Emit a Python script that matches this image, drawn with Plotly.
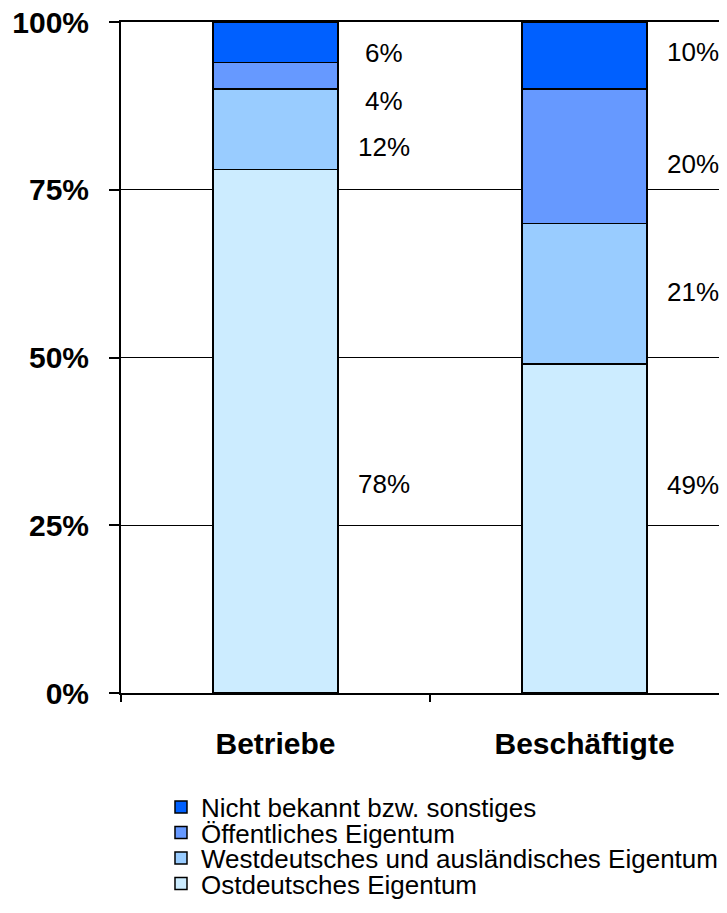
import plotly.graph_objects as go

categories = ["Betriebe", "Beschäftigte"]
series_names = [
    "Ostdeutsches Eigentum",
    "Westdeutsches und ausländisches Eigentum",
    "Öffentliches Eigentum",
    "Nicht bekannt bzw. sonstiges",
]
ost = [78, 49]
west = [12, 21]
oeff = [4, 20]
nicht = [6, 10]
series_values = [ost, west, oeff, nicht]
colors = ["#CCECFF", "#99CCFF", "#6699FF", "#0060FF"]

y_ticks = [0, 25, 50, 75, 100]
y_ticklabels = ["0%", "25%", "50%", "75%", "100%"]

# label positions (value axis, in %) as placed in the original
label_y = {
    "Betriebe": [31.2, 81.4, 88.2, 95.4],
    "Beschäftigte": [31.0, 59.7, 78.8, 95.5],
}

FONT = "Liberation Sans, Arial, sans-serif"

# one legend per entry so rows can sit as tightly as in the original
legend_ids = ["legend4", "legend3", "legend2", "legend"]
legend_rows_y = {"legend": -0.170, "legend2": -0.208, "legend3": -0.246, "legend4": -0.284}

fig = go.Figure()
for name, vals, col, lid in zip(series_names, series_values, colors, legend_ids):
    fig.add_trace(go.Bar(
        x=categories, y=vals, name=name,
        marker=dict(color=col, line=dict(color="black", width=1.5)),
        width=0.405,
        legend=lid,
    ))

annotations = []
for ci, cat in enumerate(categories):
    for si, vals in enumerate(series_values):
        annotations.append(dict(
            x=ci + 0.35, y=label_y[cat][si], xref="x", yref="y",
            text=f"{vals[ci]}%", showarrow=False,
            font=dict(family=FONT, size=26, color="black"),
            xanchor="center", yanchor="middle",
        ))

legend_common = dict(
    x=0.066, xanchor="left", yanchor="middle",
    font=dict(family=FONT, size=26, color="black"),
    bgcolor="rgba(0,0,0,0)",
    borderwidth=0,
)
layout_legends = {lid: dict(legend_common, y=yv) for lid, yv in legend_rows_y.items()}

fig.update_layout(
    barmode="stack",
    width=719, height=897,
    margin=dict(l=113, r=0, t=14, b=212, autoexpand=False),
    paper_bgcolor="white", plot_bgcolor="white",
    font=dict(family=FONT, color="black"),
    showlegend=True,
    annotations=annotations,
    **layout_legends,
)

fig.update_xaxes(
    type="category",
    range=[-0.5, 1.461],
    tickson="boundaries",
    ticks="outside", ticklen=7, tickcolor="black", tickwidth=1.5,
    showline=True, linecolor="black", linewidth=2, mirror=True,
    showgrid=False,
    tickfont=dict(family=FONT, size=30, color="black", weight="bold"),
    ticklabelstandoff=23,
)
fig.update_yaxes(
    range=[0, 100],
    tickvals=y_ticks, ticktext=y_ticklabels,
    ticks="outside", ticklen=10, tickcolor="black", tickwidth=1.5,
    showline=True, linecolor="black", linewidth=2,
    showgrid=True, gridcolor="black", gridwidth=1,
    zeroline=False,
    tickfont=dict(family=FONT, size=30, color="black", weight="bold"),
    ticklabelstandoff=14,
    ticklabeloverflow="allow",
)

fig.write_html("out.html")
